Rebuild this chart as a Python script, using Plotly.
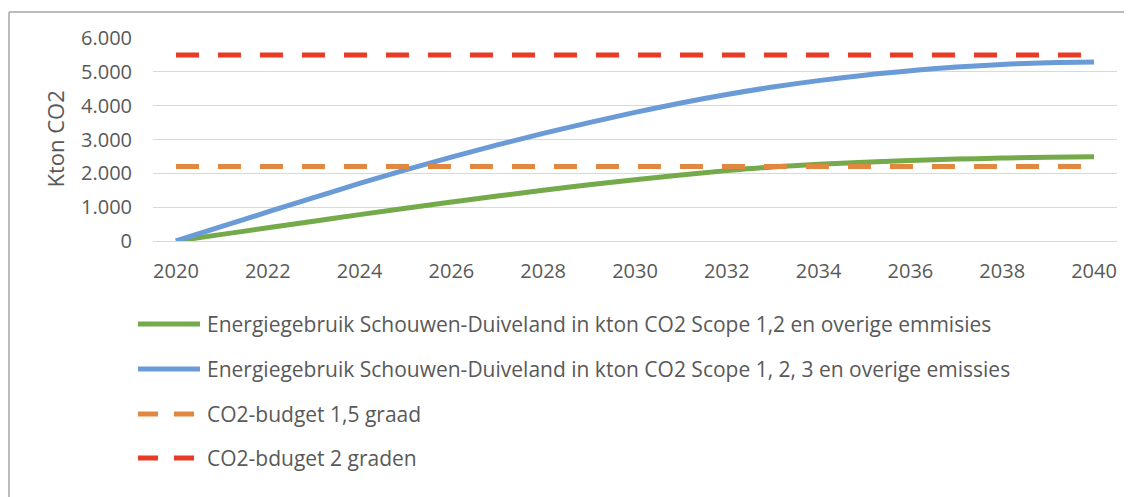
import plotly.graph_objects as go

# ---------------------------------------------------------
# データ
# ---------------------------------------------------------
years = list(range(2020, 2041))

scope12 = [0, 195, 390, 585, 780, 965, 1150, 1330, 1500, 1660, 1810,
           1950, 2080, 2190, 2270, 2330, 2380, 2420, 2450, 2475, 2490]

scope123 = [0, 430, 860, 1280, 1700, 2100, 2480, 2840, 3180, 3500, 3800,
            4080, 4330, 4550, 4740, 4900, 5030, 5140, 5220, 5270, 5290]

budget_15 = [2200, 2200, 2200, 2200, 2200, 2200, 2200, 2200, 2200, 2200, 2200,
             2200, 2200, 2200, 2200, 2200, 2200, 2200, 2200, 2200, 2200]

budget_2 = [5500, 5500, 5500, 5500, 5500, 5500, 5500, 5500, 5500, 5500, 5500,
            5500, 5500, 5500, 5500, 5500, 5500, 5500, 5500, 5500, 5500]

series_names = [
    "Energiegebruik Schouwen-Duiveland in kton CO2 Scope 1,2 en overige emmisies",
    "Energiegebruik Schouwen-Duiveland in kton CO2 Scope 1, 2, 3 en overige emissies",
    "CO2-budget 1,5 graad",
    "CO2-bduget 2 graden",
]

x_tickvals = [2020, 2022, 2024, 2026, 2028, 2030, 2032, 2034, 2036, 2038, 2040]
y_tickvals = [0, 1000, 2000, 3000, 4000, 5000, 6000]
y_ticktext = ["0", "1.000", "2.000", "3.000", "4.000", "5.000", "6.000"]

# ---------------------------------------------------------
# スタイル
# ---------------------------------------------------------
GREEN = "#74AA4A"
BLUE = "#6A9BD6"
ORANGE = "#E2873F"
RED = "#E83A25"
TEXT = "#595959"
GRID = "#D9D9D9"
FONT = "Open Sans"

# ページの body 余白 (8px) の分だけ図を小さくする
OFF = 8
W, H = 1132 - OFF, 497 - OFF
L, R, T, B = 145, 15, 30, 256


def px_x(px):
    # ページ座標 -> paper 座標
    return (px - OFF - L) / (W - L - R)


def px_y(py):
    return (H - B - (py - OFF)) / (H - T - B)


def main():
    fig = go.Figure()

    styles = [
        (scope12, GREEN, "solid"),
        (scope123, BLUE, "solid"),
        (budget_15, ORANGE, "23px,19px"),
        (budget_2, RED, "23px,19px"),
    ]
    for (vals, color, dash), name in zip(styles, series_names):
        fig.add_trace(go.Scatter(
            x=years, y=vals, name=name, mode="lines",
            line=dict(color=color, width=5, dash=dash,
                      shape="spline" if dash == "solid" else "linear"),
        ))

    # ---------------------------------------------------------
    # 凡例（手書き）
    # ---------------------------------------------------------
    shapes = []
    annotations = []
    rows = [324, 369, 414, 458]
    for (vals, color, dash), name, ry in zip(styles, series_names, rows):
        shapes.append(dict(
            type="line", xref="paper", yref="paper",
            x0=px_x(138), x1=px_x(200), y0=px_y(ry), y1=px_y(ry),
            line=dict(color=color, width=5,
                      dash="solid" if dash == "solid" else "20px,16px"),
        ))
        annotations.append(dict(
            text=name, xref="paper", yref="paper",
            x=px_x(205), y=px_y(ry), xanchor="left", yanchor="middle",
            showarrow=False, font=dict(family=FONT, size=21, color=TEXT),
        ))

    # 枠線
    shapes.append(dict(type="line", xref="paper", yref="paper",
                       x0=px_x(9), x1=px_x(1140), y0=px_y(12), y1=px_y(12),
                       line=dict(color="#A6A6A6", width=1.5)))
    shapes.append(dict(type="line", xref="paper", yref="paper",
                       x0=px_x(9), x1=px_x(9), y0=px_y(12), y1=px_y(505),
                       line=dict(color="#A6A6A6", width=1.5)))

    # Y軸タイトル
    annotations.append(dict(
        text="Kton CO2", xref="paper", yref="paper",
        x=px_x(54), y=0.5, xanchor="center", yanchor="middle",
        textangle=-90, showarrow=False,
        font=dict(family=FONT, size=22, color=TEXT),
    ))

    fig.update_layout(
        width=W, height=H,
        margin=dict(l=L, r=R, t=T, b=B),
        paper_bgcolor="white",
        plot_bgcolor="white",
        showlegend=False,
        font=dict(family=FONT, color=TEXT),
        shapes=shapes,
        annotations=annotations,
        xaxis=dict(
            range=[2019.5, 2040.5], tickvals=x_tickvals,
            showgrid=False, zeroline=False, showline=False,
            ticks="", ticklabelstandoff=16,
            tickfont=dict(family=FONT, size=20, color=TEXT),
        ),
        yaxis=dict(
            range=[0, 6000], tickvals=y_tickvals, ticktext=y_ticktext,
            showgrid=True, gridcolor=GRID, gridwidth=1.3,
            zeroline=True, zerolinecolor=GRID, zerolinewidth=1.3,
            showline=False, ticks="", ticklabelstandoff=20,
            tickfont=dict(family=FONT, size=20, color=TEXT),
        ),
    )

    fig.write_html("out.html")


if __name__ == "__main__":
    main()
